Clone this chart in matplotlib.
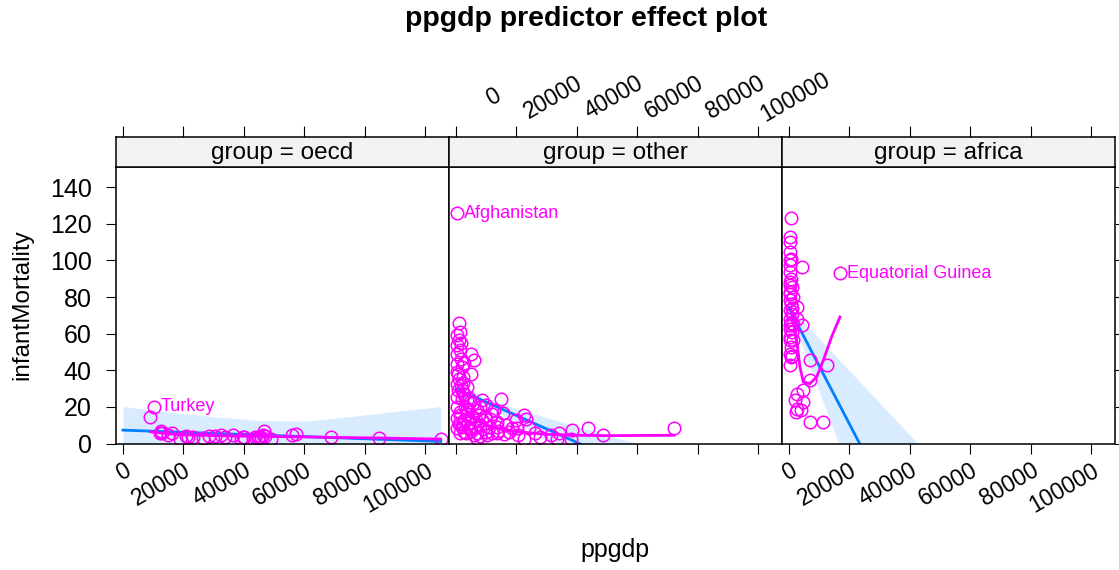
import matplotlib
matplotlib.use('Agg')
import matplotlib.pyplot as plt
from matplotlib import transforms

plt.rcParams['font.family'] = ['Liberation Sans', 'DejaVu Sans']

groups = ['oecd', 'other', 'africa']
x_ticks = [0, 20000, 40000, 60000, 80000, 100000]
y_ticks = [0, 20, 40, 60, 80, 100, 120, 140]

oecd_pts = [(9100, 14.4), (10100, 20.2), (12260, 5.7), (12430, 7.0), (12880, 5.6),
            (14840, 4.5), (16180, 5.9), (18840, 2.7), (20760, 4.2), (21440, 3.4),
            (23110, 3.4), (26500, 3.0), (28520, 4.2), (30540, 3.9), (32370, 4.8),
            (33880, 3.3), (36330, 4.6), (39030, 2.6), (39550, 3.3), (39860, 3.5),
            (43140, 2.4), (43810, 3.8), (44500, 2.9), (44990, 3.6), (45690, 3.8),
            (46360, 4.9), (46550, 7.0), (46910, 4.2), (48910, 2.5), (55830, 4.5),
            (57120, 5.0), (68880, 3.8), (84590, 3.1), (105100, 2.4)]

other_pts = [(330, 125.7), (990, 65.8), (430, 59.1), (990, 56.4), (300, 53.6),
             (1320, 50.9), (300, 49.1), (4830, 49.1), (5950, 45.4), (1650, 46.4),
             (300, 43.6), (1980, 41.8), (300, 39.1), (4960, 37.8), (2310, 36.3),
             (300, 32.7), (1650, 31.8), (3640, 30.9), (660, 29.1), (300, 25.4),
             (14750, 24.5), (1980, 24.5), (8460, 23.6), (4630, 22.7), (300, 20.0),
             (3640, 19.1), (10000, 20.9), (6940, 18.2), (15400, 16.4), (22480, 15.4),
             (23000, 13.6), (1320, 15.4), (5290, 14.5), (11350, 13.6), (2310, 10.9),
             (7930, 10.0), (13680, 11.8), (19700, 12.7), (4630, 8.2), (10000, 6.3),
             (13680, 5.5), (5950, 4.5), (17520, 6.3), (20370, 4.5), (24000, 8.2),
             (26000, 5.5), (27640, 3.6), (31270, 4.5), (34050, 5.5), (38220, 7.3),
             (43740, 8.2), (48700, 4.5), (33500, 2.7), (37900, 2.7), (22480, 2.7),
             (6940, 2.7), (10400, 4.5), (2640, 6.3), (990, 10.9), (8600, 12.7),
             (7600, 15.4), (3640, 23.6), (1980, 29.1), (7930, 20.0), (12680, 18.2),
             (4300, 8.2), (300, 8.2), (1320, 5.5), (13680, 9.1), (16400, 10.0),
             (18600, 8.2), (20270, 8.2), (72170, 8.7), (1000, 35.0), (2500, 27.0),
             (3000, 20.0), (1500, 17.0), (2800, 13.0), (4000, 11.0), (2000, 9.0),
             (3300, 6.0), (5000, 7.0), (6200, 9.0), (7000, 6.0), (8000, 4.0),
             (9000, 8.0), (11000, 9.0), (12000, 6.0), (3800, 16.0), (5600, 22.0),
             (2600, 44.0), (700, 38.0), (1800, 55.0), (1200, 61.0), (2200, 33.0),
             (4200, 25.0), (6600, 13.0), (9500, 15.0), (11800, 16.0), (16000, 5.0),
             (14000, 7.0), (500, 14.0), (1500, 11.0)]

africa_pts = [(550, 123.3), (330, 112.7), (200, 110.0), (200, 104.5), (200, 100.0),
              (4190, 96.3), (330, 97.3), (200, 93.6), (660, 90.0), (200, 86.4),
              (1100, 85.4), (300, 81.8), (1320, 80.0), (200, 78.2), (660, 76.4),
              (2530, 74.5), (200, 72.7), (1100, 70.9), (200, 68.2), (2750, 68.2),
              (4190, 64.5), (300, 64.5), (200, 62.7), (1100, 60.9), (200, 56.4),
              (1320, 56.4), (660, 52.7), (200, 49.1), (660, 47.2), (300, 42.7),
              (6940, 45.4), (12460, 42.7), (6940, 34.5), (4740, 29.1), (2530, 27.3),
              (1980, 23.6), (4740, 22.7), (2750, 19.1), (3970, 18.2), (2310, 17.2),
              (6940, 11.8), (11130, 11.8), (16750, 93.0), (500, 88.0), (800, 66.0),
              (400, 58.0), (900, 74.0), (350, 83.0), (1500, 65.0), (700, 101.0),
              (1000, 48.0)]

label_names = ['Turkey', 'Afghanistan', 'Equatorial Guinea']
label_group = ['oecd', 'other', 'africa']
label_x = [10100, 330, 16750]
label_y = [20.2, 125.7, 93.0]

# fitted effect lines
fit_x = [0, 105100]
fit_oecd = [7.3, 1.1]
fit_other = [30.0, -47.3]
fit_africa = [74.0, -259.0]

# confidence bands
band_x_oecd = [0, 15000, 30000, 45000, 60000, 75000, 90000, 105100]
upper_oecd = [20.2, 17.2, 14.6, 12.6, 12.2, 14.7, 17.5, 20.2]
lower_oecd = [-5.6, -4.4, -3.6, -3.4, -4.6, -8.9, -13.5, -18.0]
band_x_other = [0, 10000, 20000, 30000, 40000, 50000, 60000, 80000, 105100]
upper_other = [32.9, 24.7, 19.1, 14.1, 9.4, 4.6, -0.1, -9.5, -21.3]
lower_other = [27.1, 20.5, 11.5, 1.7, -8.2, -18.2, -28.1, -48.3, -73.3]
band_x_africa = [0, 105100]
upper_africa = [75.0, -110.0]
lower_africa = [73.0, -391.0]

# smoothers through the points
smooth_x_oecd = [9100, 15000, 20000, 30000, 40000, 50000, 60000, 70000, 85000, 105100]
smooth_y_oecd = [6.4, 5.3, 4.8, 4.3, 4.0, 3.8, 3.6, 3.3, 3.0, 2.4]
smooth_x_other = [300, 2000, 5000, 10000, 15000, 20000, 30000, 40000, 50000, 72170]
smooth_y_other = [28.0, 22.0, 15.0, 10.0, 8.0, 6.5, 5.0, 4.5, 4.3, 4.5]
smooth_x_africa = [1100, 2530, 3640, 4740, 6940, 9150, 11350, 14100, 16860]
smooth_y_africa = [70.0, 56.4, 41.8, 33.6, 32.7, 36.3, 45.4, 58.2, 69.1]

pts = {'oecd': oecd_pts, 'other': other_pts, 'africa': africa_pts}
fits = {'oecd': fit_oecd, 'other': fit_other, 'africa': fit_africa}
bands = {'oecd': (band_x_oecd, upper_oecd, lower_oecd),
         'other': (band_x_other, upper_other, lower_other),
         'africa': (band_x_africa, upper_africa, lower_africa)}
smooths = {'oecd': (smooth_x_oecd, smooth_y_oecd),
           'other': (smooth_x_other, smooth_y_other),
           'africa': (smooth_x_africa, smooth_y_africa)}

W, H = 1119, 570
BLUE = '#0080ff'
MAG = '#ff00ff'
xlim = (-2300, 107800)
ylim = (0, 151)

fig = plt.figure(figsize=(W / 100, H / 100), dpi=100)

def fx(px):
    return px / W

def fy(py):
    return 1 - py / H

edges = [116, 449, 782, 1115]
p_top, p_bot, s_top = 167, 443.5, 137

for i, g in enumerate(groups):
    l = fx(edges[i])
    w = (edges[i + 1] - edges[i]) / W
    ax = fig.add_axes([l, fy(p_bot), w, (p_bot - p_top) / H])
    bx, up, lo = bands[g]
    ax.fill_between(bx, lo, up, color=BLUE, alpha=0.15, lw=0)
    ax.plot(fit_x, fits[g], color=BLUE, lw=2)
    px_, py_ = zip(*pts[g])
    ax.plot(px_, py_, 'o', mfc='none', mec=MAG, ms=9, mew=1.1)
    sx, sy = smooths[g]
    ax.plot(sx, sy, color=MAG, lw=2)
    for name, lg, lx, ly in zip(label_names, label_group, label_x, label_y):
        if lg == g:
            t = transforms.offset_copy(ax.transData, fig, x=7, y=0, units='dots')
            ax.text(lx, ly, name, color=MAG, fontsize=13, ha='left', va='center',
                    transform=t)
    ax.set_xlim(*xlim)
    ax.set_ylim(*ylim)
    ax.set_xticks(x_ticks)
    ax.set_yticks(y_ticks)
    ax.tick_params(axis='both', direction='out', length=7.5, width=0.8,
                   labelsize=16.5, top=False, bottom=True,
                   left=(i == 0), right=(i == 2),
                   labelleft=(i == 0), labelright=False, labelbottom=(i != 1))
    ax.tick_params(axis='y', labelsize=18, pad=10)
    if i != 1:
        ax.set_xticklabels([str(v) for v in x_ticks], rotation=30, ha='right',
                           rotation_mode='anchor')
    for sp in ax.spines.values():
        sp.set_linewidth(1.1)

    # strip
    axs = fig.add_axes([l, fy(p_top), w, (p_top - s_top) / H])
    axs.set_facecolor('#f2f2f2')
    axs.set_xlim(*xlim)
    axs.set_xticks(x_ticks)
    axs.set_yticks([])
    axs.tick_params(axis='x', direction='out', length=8, width=0.8, top=True,
                    bottom=False, labelbottom=False, labeltop=False)
    for sp in axs.spines.values():
        sp.set_linewidth(1.1)
    axs.text(0.5, 0.45, 'group = ' + g, transform=axs.transAxes, ha='center',
             va='center', fontsize=17.5)
    if i == 1:
        tr = transforms.blended_transform_factory(axs.transData, fig.transFigure)
        tr = transforms.offset_copy(tr, fig, x=37, y=0, units='dots')
        for v in x_ticks:
            axs.text(v, fy(97), str(v), transform=tr, rotation=30, ha='center',
                     va='center', fontsize=16.5, rotation_mode='anchor')

fig.text(fx(586), fy(19), 'ppgdp predictor effect plot', ha='center', va='center',
         fontsize=20.5, fontweight='bold')
fig.text(fx(615), fy(550), 'ppgdp', ha='center', va='center', fontsize=18)
fig.text(fx(22), fy(305), 'infantMortality', ha='center', va='center',
         fontsize=17.5, rotation=90)

fig.savefig('out.png', dpi=100)
